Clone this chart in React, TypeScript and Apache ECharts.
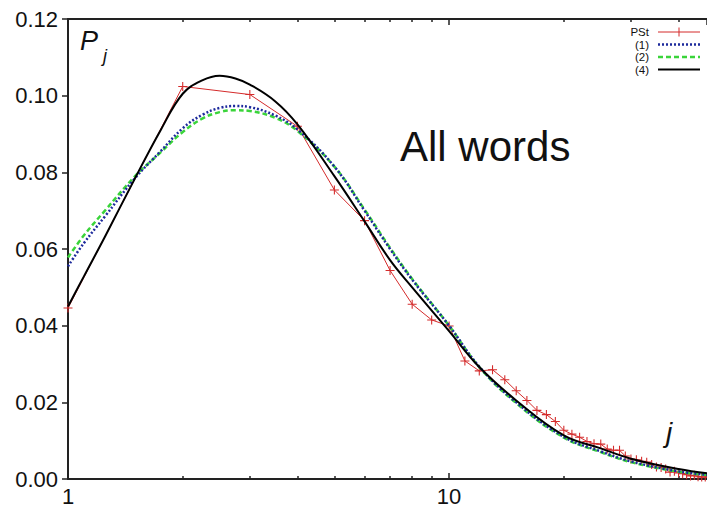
import React, { useEffect, useRef } from "react";
import * as echarts from "echarts";

// ---- data ----
const pstJ = [
  1, 2, 3, 4, 5, 6, 7, 8, 9, 10, 11, 12, 13, 14, 15, 16, 17, 18, 19, 20, 21, 22, 23, 24, 25,
  26, 27, 28, 29, 30, 31, 32, 33, 34, 35, 36, 37, 38, 39, 40, 41, 42, 43, 44, 45, 46, 47, 48, 49, 50,
];
const pstP = [
  0.0446, 0.1024, 0.1003, 0.092, 0.0754, 0.0674, 0.0544, 0.0456, 0.0415, 0.0399, 0.0308, 0.0282,
  0.0285, 0.0259, 0.023, 0.0205, 0.0179, 0.0168, 0.015, 0.0127, 0.0117, 0.0109, 0.0098, 0.0092,
  0.0091, 0.0078, 0.0075, 0.0075, 0.006, 0.0052, 0.005, 0.0046, 0.0044, 0.0038, 0.0031, 0.003,
  0.0026, 0.0018, 0.002, 0.0016, 0.0014, 0.0011, 0.0008, 0.001, 0.0006, 0.0005, 0.0005, 0.0004,
  0.0003, 0.0003,
];
const fitJ = [1, 1.1, 1.25, 1.5, 1.75, 2, 2.25, 2.5, 2.75, 3, 3.5, 4, 5, 6, 7, 8, 10, 12, 15, 20, 25, 30, 40, 50];
const fit1 = [
  0.0555, 0.0615, 0.0685, 0.0785, 0.0855, 0.0915, 0.095, 0.0968, 0.0973, 0.097, 0.0948, 0.0912,
  0.0815, 0.07, 0.06, 0.052, 0.04, 0.0293, 0.02, 0.011, 0.0072, 0.0046, 0.002, 0.0009,
];
const fit2 = [
  0.0578, 0.0635, 0.07, 0.079, 0.0852, 0.0905, 0.094, 0.0957, 0.0962, 0.096, 0.0942, 0.0908,
  0.0815, 0.0703, 0.0603, 0.0522, 0.04, 0.0292, 0.0198, 0.0108, 0.007, 0.0044, 0.0019, 0.0008,
];
const fit4 = [
  0.045, 0.0528, 0.0632, 0.0785, 0.091, 0.1005, 0.104, 0.1052, 0.1045, 0.1029, 0.0985, 0.0925,
  0.079, 0.0672, 0.0571, 0.05, 0.0386, 0.0292, 0.0205, 0.0114, 0.008, 0.0053, 0.0026, 0.0012,
];
const legendNames = ["PSt", "(1)", "(2)", "(4)"];
const xLabelValues = [1, 10];
const X_MIN = 1;
const X_MAX = 47.5;

const FONT = "'Liberation Sans', Arial, Helvetica, sans-serif";
const RED = "#d42b2b";
const BLUE = "#1d2a9c";
const GREEN = "#3ad43a";
const AXIS = "#222";

const zip = (xs: number[], ys: number[]) => xs.map((x, i) => [x, ys[i]]);

const PLUS = "path://M4.4,0H5.6V4.4H10V5.6H5.6V10H4.4V5.6H0V4.4H4.4Z";

function xAxisDef(position: "top" | "bottom", labels: boolean) {
  return {
    type: "log",
    logBase: 10,
    min: X_MIN,
    max: X_MAX,
    position,
    gridIndex: 0,
    axisLine: { show: true, lineStyle: { color: AXIS, width: 2 } },
    axisTick: { show: true, inside: true, length: 6, lineStyle: { color: AXIS, width: 1.5 } },
    minorTick: { show: true, splitNumber: 9, length: 3, lineStyle: { color: AXIS, width: 1.5 } },
    axisLabel: labels
      ? {
          show: true,
          formatter: (v: number) => {
            const r = Math.round(v * 1000) / 1000;
            return xLabelValues.indexOf(r) >= 0 ? String(r) : "";
          },
          fontSize: 22,
          fontFamily: FONT,
          color: "#111",
          margin: 6,
          showMaxLabel: false,
        }
      : { show: false },
    splitLine: { show: false },
    minorSplitLine: { show: false },
  };
}

export default function App() {
  const ref = useRef<HTMLDivElement>(null);
  useEffect(() => {
    if (!ref.current) return;
    const chart = echarts.init(ref.current, undefined, { renderer: "svg" });
    const legendY = [32, 44.5, 57, 69.5];
    const legendStyles = [
      { stroke: RED, lineWidth: 1 },
      { stroke: BLUE, lineWidth: 2.5, lineDash: [2, 2] },
      { stroke: GREEN, lineWidth: 2.5, lineDash: [5, 3] },
      { stroke: "#000", lineWidth: 2 },
    ];
    const legendGraphics: any[] = [];
    legendNames.forEach((name, i) => {
      legendGraphics.push({
        type: "text",
        x: 649,
        y: legendY[i],
        style: {
          text: name,
          fontSize: 11.5,
          lineHeight: 11,
          fontFamily: FONT,
          fill: "#111",
          align: "right",
          verticalAlign: "middle",
        },
      });
      legendGraphics.push({
        type: "line",
        shape: { x1: 658, y1: legendY[i], x2: 700, y2: legendY[i] },
        style: legendStyles[i],
      });
    });
    legendGraphics.push({
      type: "line",
      shape: { x1: 679, y1: legendY[0] - 4.5, x2: 679, y2: legendY[0] + 4.5 },
      style: { stroke: RED, lineWidth: 1 },
    });

    chart.setOption({
      animation: false,
      backgroundColor: "#fff",
      grid: { left: 68, top: 19, bottom: 25, right: 0, containLabel: false },
      xAxis: [xAxisDef("bottom", true), xAxisDef("top", false)],
      yAxis: {
        type: "value",
        min: 0,
        max: 0.12,
        interval: 0.02,
        axisLine: { show: true, lineStyle: { color: AXIS, width: 2 } },
        axisTick: { show: true, inside: false, length: 6, lineStyle: { color: AXIS, width: 1.5 } },
        axisLabel: {
          formatter: (v: number) => v.toFixed(2),
          fontSize: 22,
          fontFamily: FONT,
          color: "#111",
          margin: 10,
        },
        splitLine: { show: false },
      },
      series: [
        {
          name: legendNames[0],
          type: "line",
          data: zip(pstJ, pstP),
          lineStyle: { color: RED, width: 1 },
          itemStyle: { color: RED },
          symbol: PLUS,
          symbolSize: 9,
          showSymbol: true,
          z: 2,
        },
        {
          name: legendNames[2],
          type: "line",
          data: zip(fitJ, fit2),
          smooth: 0.4,
          lineStyle: { color: GREEN, width: 2.5, type: [5, 3] },
          showSymbol: false,
          symbol: "none",
          z: 3,
        },
        {
          name: legendNames[1],
          type: "line",
          data: zip(fitJ, fit1),
          smooth: 0.4,
          lineStyle: { color: BLUE, width: 2.5, type: [2, 2] },
          showSymbol: false,
          symbol: "none",
          z: 4,
        },
        {
          name: legendNames[3],
          type: "line",
          data: zip(fitJ, fit4),
          smooth: 0.4,
          lineStyle: { color: "#000", width: 2 },
          showSymbol: false,
          symbol: "none",
          z: 5,
        },
      ],
      graphic: [
        {
          type: "text",
          left: 80,
          top: 27,
          style: { text: "P", fontSize: 27, fontStyle: "italic", fontFamily: FONT, fill: "#111" },
        },
        {
          type: "text",
          left: 103,
          top: 47,
          style: { text: "j", fontSize: 18, fontStyle: "italic", fontFamily: FONT, fill: "#111" },
        },
        {
          type: "text",
          left: 400,
          top: 125,
          style: { text: "All words", fontSize: 42, fontFamily: FONT, fill: "#111" },
        },
        {
          type: "text",
          left: 666,
          top: 418,
          style: { text: "j", fontSize: 28, fontStyle: "italic", fontFamily: FONT, fill: "#111" },
        },
        ...legendGraphics,
      ],
    });
    return () => chart.dispose();
  }, []);
  return (
    <div
      ref={ref}
      style={{ position: "fixed", left: 0, top: 0, width: 707, height: 507, background: "#fff" }}
    />
  );
}
